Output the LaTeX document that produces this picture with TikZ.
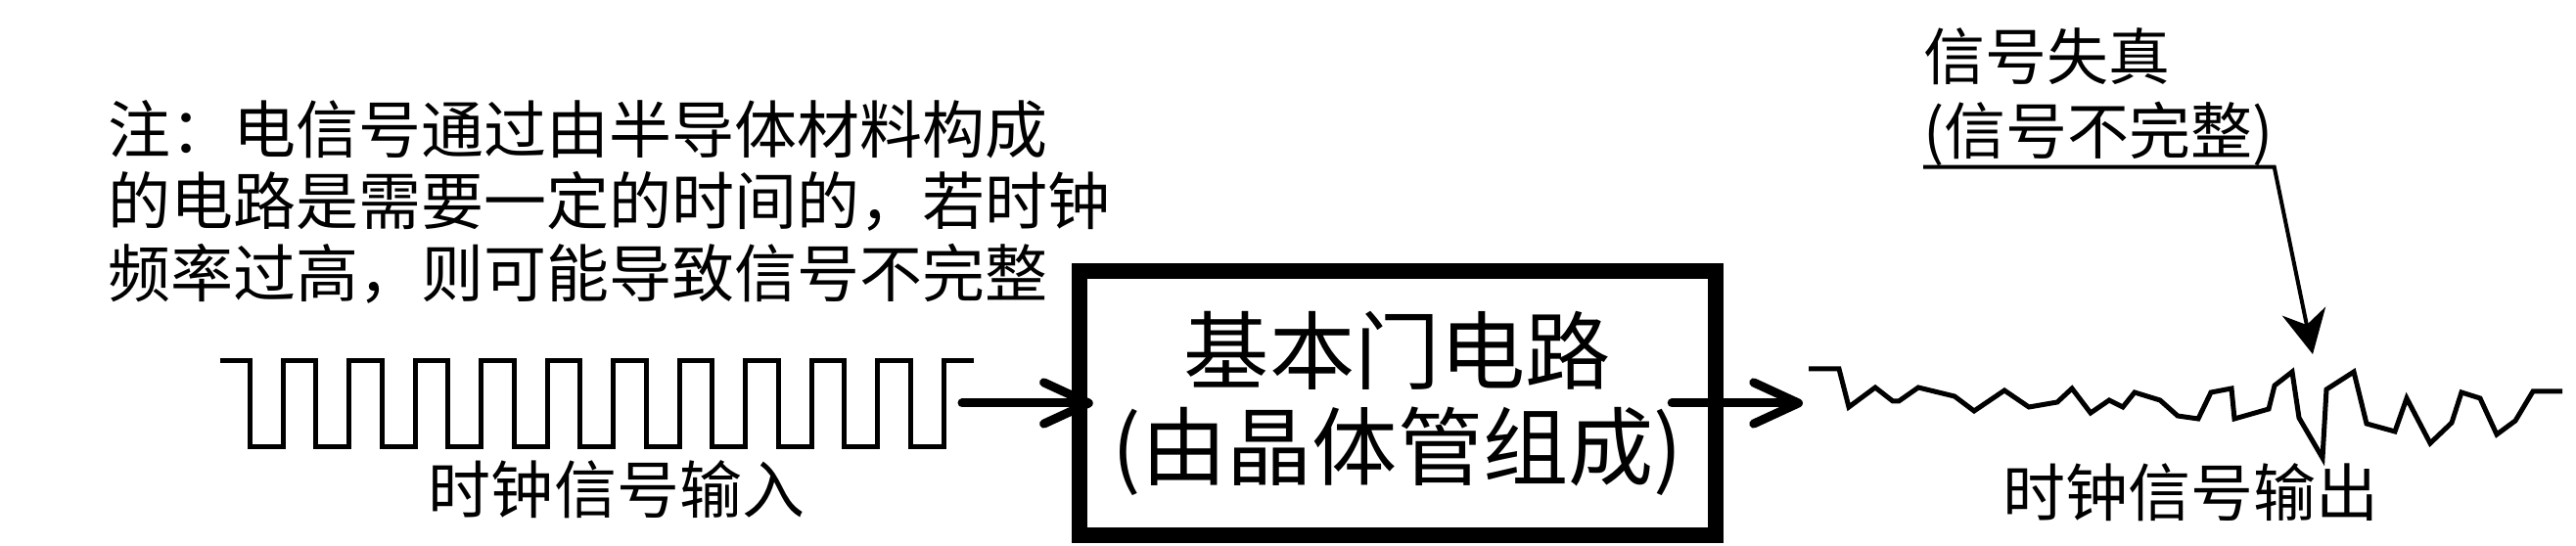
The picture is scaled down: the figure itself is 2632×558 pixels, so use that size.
\documentclass[tikz,border=0pt]{standalone}
\usepackage{fontspec}
\newfontfamily\cjk{Noto Sans CJK SC}
\usepackage{tikz}
\usetikzlibrary{calc, arrows.meta}

\begin{document}
\begin{tikzpicture}[x=0.01cm, y=-0.01cm,
					GateBox/.style={draw, line width=0.16cm, minimum width=6.5cm, minimum height=2.7cm, inner sep=0pt, align=center, font={\cjk\fontsize{24.8pt}{27.9pt}\selectfont}},
					NoteText/.style={anchor=north west, inner sep=0pt, align=left, font={\cjk\fontsize{18.2pt}{20.8pt}\selectfont}},
					LabelText/.style={inner sep=0pt, font={\cjk\fontsize{18.2pt}{20.8pt}\selectfont}},
					WaveLine/.style={line width=0.05cm},
					SignalArrow/.style={line width=0.09cm, line cap=round, -{Straight Barb[length=13pt, width=12pt, round]}},
					LeaderArrow/.style={line width=0.04cm, -{Stealth[length=12.7pt, width=12.8pt, inset=4pt]}}]

				\useasboundingbox (0,0) rectangle (2632,558);

				% Nodes
				\node[NoteText] (NoteNode) at (110,102) {注：电信号通过由半导体材料构成\\的电路是需要一定的时间的，若时钟\\频率过高，则可能导致信号不完整};
				\node[GateBox] (GateNode) at (1428,412) {基本门电路\\(由晶体管组成)};
				\node[LabelText] (InLabel) at (630,500) {时钟信号输入};
				\node[LabelText] (OutLabel) at (2238,503) {时钟信号输出};
				\node[NoteText, font={\cjk\fontsize{17.9pt}{21.6pt}\selectfont}] (DistortNote) at (1965,28) {信号失真\\(信号不完整)};

				\coordinate (InStart) at (983,412);
				\coordinate (OutTip) at (1842,412);
				\coordinate (DistortTip) at (2363,362);

				% Waves
				\draw[WaveLine] (225,369) \foreach \k in {0,...,10} {
					-- ({255+67.5*\k},369) -- ({255+67.5*\k},457) -- ({289+67.5*\k},457) -- ({289+67.5*\k},369)} -- (995,369);
				\draw[WaveLine] (1848,377) -- (1879,377) -- (1889,416) -- (1916,396) -- (1934,410) -- (1940,410) -- (1960,396)
					-- (1997,405) -- (2017,420) -- (2048,399) -- (2073,416) -- (2102,411) -- (2117,397) -- (2136,422)
					-- (2155,409) -- (2169,416) -- (2181,401) -- (2207,409) -- (2225,425) -- (2246,428) -- (2259,401)
					-- (2280,397) -- (2283,428) -- (2318,418) -- (2324,394) -- (2342,380) -- (2349,427) -- (2373,468)
					-- (2377,398) -- (2405,380) -- (2418,433) -- (2447,441) -- (2459,407) -- (2483,453) -- (2505,432)
					-- (2515,401) -- (2534,407) -- (2551,444) -- (2570,430) -- (2588,400) -- (2618,400);

				% Lines
				\draw[SignalArrow] (InStart) to ($(GateNode.west)+(22,0)$);
				\draw[SignalArrow] ($(GateNode.east)+(-53,0)$) to (OutTip);
				\draw[LeaderArrow] (DistortNote.south west) -- (DistortNote.south east) -- (DistortTip);
			\end{tikzpicture}
\end{document}
